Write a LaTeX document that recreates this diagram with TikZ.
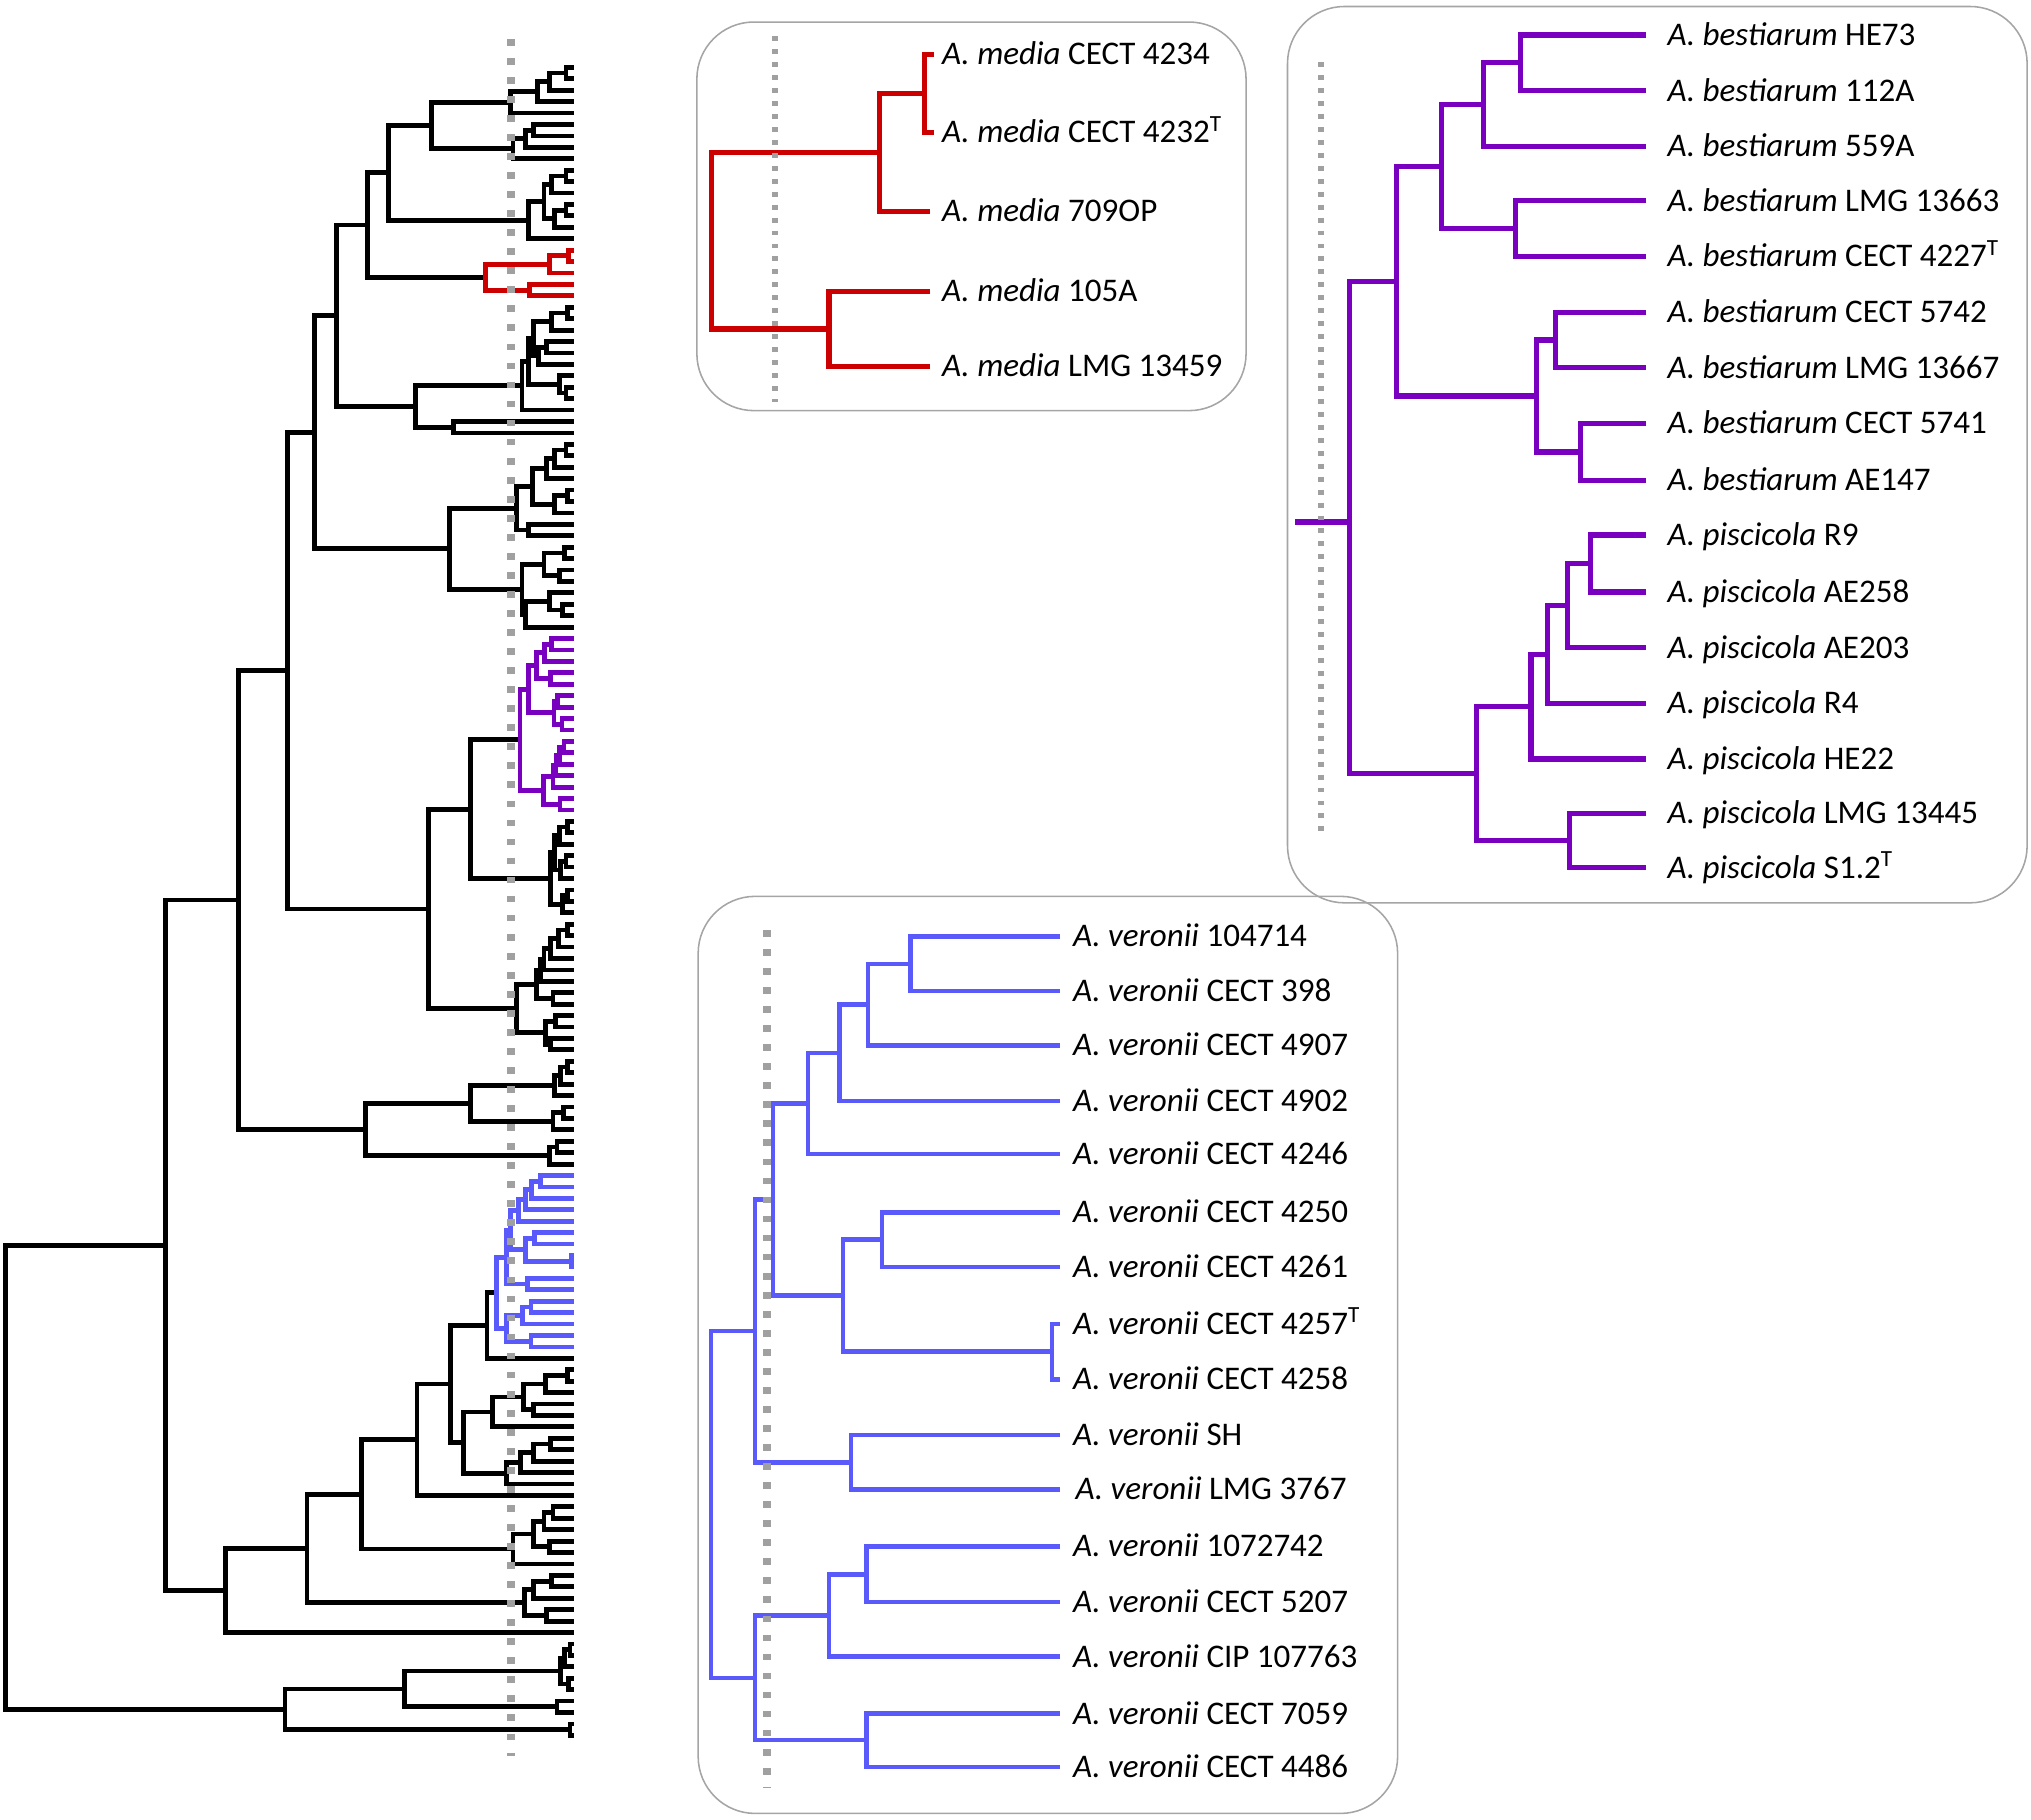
\documentclass[tikz,border=0pt]{standalone}
\usepackage{fontspec}
\setmainfont{Carlito}
\definecolor{tred}{RGB}{204,0,0}
\definecolor{tpurple}{RGB}{120,0,190}
\definecolor{tblue}{RGB}{90,90,250}
\definecolor{dotgray}{RGB}{160,160,160}
\definecolor{boxgray}{RGB}{165,165,165}
\newcommand\bk[5]{\draw (#2,#3) -- (#1,#3) -- (#1,#5) -- (#4,#5);}
\newcommand\lf[5]{\coordinate (#1) at (#2,#4); \node[lbl] (#1t) at (#3,#4) {#5};}
\newcommand\br[3]{\draw (#2) -| (#1) |- (#3);}
\begin{document}
\begin{tikzpicture}[x=0.5pt,y=-0.5pt,line join=miter,
  bigtree/.style={line width=1.85pt},
  boxtree/.style={line width=2pt},
  bluetree/.style={line width=1.7pt},
  lbl/.style={anchor=west,inner sep=0pt,font=\fontsize{12.75}{15}\selectfont,text height=8pt,text depth=0pt},
  gdot/.style={dotgray,line width=3pt,dash pattern=on 2.6pt off 4.75pt},
  bdot/.style={dotgray,line width=2.3pt,dash pattern=on 1.9pt off 3.1pt},
  panel/.style={draw=boxgray,line width=0.6pt,rounded corners=22pt}]
\useasboundingbox (0,0) rectangle (1568,1404.5);

% ---------------- big tree ----------------
\begin{scope}[yshift=-26pt,y=-4.41pt,bigtree]
\bk{437}{443}{0}{443}{1}
\bk{424}{437}{0.5}{443}{2}
\bk{415}{424}{1.25}{443}{3}
\bk{394}{415}{2.125}{443}{4}
\bk{412}{443}{5}{443}{6}
\bk{406}{412}{5.5}{443}{7}
\bk{396}{406}{6.25}{443}{8}
\bk{333}{394}{3.0625}{396}{7.125}
\bk{437}{443}{9}{443}{10}
\bk{426}{437}{9.5}{443}{11}
\bk{437}{443}{12}{443}{13}
\bk{428}{437}{12.5}{443}{14}
\bk{420}{426}{10.25}{428}{13.25}
\bk{408}{420}{11.75}{443}{15}
\bk{300}{333}{5.094}{408}{13.375}
\bk{284}{300}{9.234}{375}{18.375}
\bk{438}{443}{21}{443}{22}
\bk{426}{438}{21.5}{443}{23}
\bk{422}{443}{24}{443}{25}
\bk{416}{422}{24.5}{443}{26}
\bk{412}{426}{22.25}{416}{25.25}
\bk{437}{443}{28}{443}{29}
\bk{432}{443}{27}{437}{28.5}
\bk{408}{412}{23.75}{432}{27.75}
\bk{403}{408}{25.75}{443}{30}
\bk{350}{443}{31}{443}{32}
\bk{321}{403}{27.875}{350}{31.5}
\bk{260}{284}{13.805}{321}{29.688}
\bk{437}{443}{33}{443}{34}
\bk{428}{437}{33.5}{443}{35}
\bk{422}{428}{34.25}{443}{36}
\bk{438}{443}{37}{443}{38}
\bk{428}{438}{37.5}{443}{39}
\bk{411}{422}{35.125}{428}{38.25}
\bk{408}{443}{40}{443}{41}
\bk{399}{411}{36.688}{408}{40.5}
\bk{436}{443}{42}{443}{43}
\bk{432}{443}{44}{443}{45}
\bk{420}{436}{42.5}{432}{44.5}
\bk{434}{443}{47}{443}{48}
\bk{424}{443}{46}{434}{47.5}
\bk{406}{424}{46.75}{443}{49}
\bk{403}{420}{43.5}{406}{47.875}
\bk{347}{399}{38.594}{403}{45.688}
\bk{243}{260}{21.746}{347}{42.141}
\bk{438}{443}{66}{443}{67}
\bk{432}{438}{66.5}{443}{68}
\bk{437}{443}{69}{443}{70}
\bk{433}{437}{69.5}{443}{71}
\bk{428}{432}{67.25}{433}{70.25}
\bk{438}{443}{72}{443}{73}
\bk{434}{438}{72.5}{443}{74}
\bk{425}{428}{68.75}{434}{73.25}
\bk{363}{401.5}{58.86}{425}{71}
\bk{438}{443}{75}{443}{76}
\bk{431}{438}{75.5}{443}{77}
\bk{425}{431}{76.25}{443}{78}
\bk{420}{425}{77.125}{443}{79}
\bk{417}{420}{78.06}{443}{80}
\bk{427}{443}{81}{443}{82}
\bk{414}{417}{79.03}{427}{81.5}
\bk{429}{443}{83}{443}{84}
\bk{425}{443}{85}{443}{86}
\bk{421}{429}{83.5}{425}{85.5}
\bk{399}{414}{80.27}{421}{84.5}
\bk{331}{363}{64.93}{399}{82.385}
\bk{222}{243}{31.94}{331}{73.66}
\bk{438}{443}{87}{443}{88}
\bk{433}{438}{87.5}{443}{89}
\bk{428}{433}{88.25}{443}{90}
\bk{435}{443}{91}{443}{92}
\bk{427}{435}{91.5}{443}{93}
\bk{363}{428}{89.125}{427}{92.25}
\bk{430}{443}{94}{443}{95}
\bk{424}{430}{94.5}{443}{96}
\bk{282}{363}{90.69}{424}{95.25}
\bk{184}{222}{52.8}{282}{92.97}
\bk{376}{383.5}{107.26}{443}{113}
\bk{438}{443}{114}{443}{115}
\bk{421}{438}{114.5}{443}{116}
\bk{412}{443}{117}{443}{118}
\bk{404}{421}{115.25}{412}{117.5}
\bk{380}{404}{116.375}{443}{119}
\bk{425}{443}{120}{443}{121}
\bk{412}{425}{120.5}{443}{122}
\bk{402}{412}{121.25}{443}{123}
\bk{391}{402}{122.125}{443}{124}
\bk{358}{380}{117.69}{391}{123.06}
\bk{348}{376}{110.13}{358}{120.375}
\bk{322}{348}{115.25}{443}{125}
\bk{427}{443}{126}{443}{127}
\bk{420}{427}{126.5}{443}{128}
\bk{424}{443}{129}{443}{130}
\bk{412}{420}{127.25}{424}{129.5}
\bk{396}{412}{128.375}{443}{131}
\bk{279}{322}{120.13}{396}{129.69}
\bk{426}{443}{132}{443}{133}
\bk{412}{426}{132.5}{443}{134}
\bk{422}{443}{135}{443}{136}
\bk{405}{412}{133.25}{422}{135.5}
\bk{237}{279}{124.91}{405}{134.375}
\bk{174}{237}{129.64}{443}{137}
\bk{128}{184}{72.88}{174}{133.32}
\bk{440}{443}{138}{443}{139}
\bk{436}{440}{138.5}{443}{140}
\bk{439}{443}{141}{443}{142}
\bk{433}{436}{139.25}{439}{141.5}
\bk{430}{443}{143}{443}{144}
\bk{312}{433}{140.375}{430}{143.5}
\bk{440}{443}{145}{443}{146}
\bk{220}{312}{141.94}{440}{145.5}
\bk{4}{128}{103.1}{220}{143.72}
\begin{scope}[tred]
\bk{439}{443}{16}{443}{17}
\bk{424}{439}{16.5}{443}{18}
\bk{409}{443}{19}{443}{20}
\bk{375}{424}{17.25}{409}{19.5}
\end{scope}
\begin{scope}[tpurple]
\bk{425.5}{443}{50}{443}{51}
\bk{420.2}{425.5}{50.5}{443}{52}
\bk{424.8}{443}{53}{443}{54}
\bk{414.4}{420.2}{51.25}{424.8}{53.5}
\bk{430.4}{443}{55}{443}{56}
\bk{433.9}{443}{57}{443}{58}
\bk{427.7}{430.4}{55.5}{433.9}{57.5}
\bk{408}{414.4}{52.375}{427.7}{56.5}
\bk{435.4}{443}{59}{443}{60}
\bk{432}{435.4}{59.5}{443}{61}
\bk{429.3}{432}{60.25}{443}{62}
\bk{427}{429.3}{61.125}{443}{63}
\bk{432.4}{443}{64}{443}{65}
\bk{419.3}{427}{62.06}{432.4}{64.5}
\bk{401.5}{408}{54.44}{419.3}{63.28}
\end{scope}
\begin{scope}[tblue]
\bk{417.5}{443}{97}{443}{98}
\bk{410.2}{417.5}{97.5}{443}{99}
\bk{405.4}{410.2}{98.25}{443}{100}
\bk{400.1}{405.4}{99.125}{443}{101}
\bk{412.7}{443}{102}{443}{103}
\bk{441}{443}{104}{443}{105}
\bk{406}{412.7}{102.5}{441}{104.5}
\bk{394.1}{400.1}{100.06}{406}{103.5}
\bk{407.4}{443}{106}{443}{107}
\bk{391}{394.1}{101.78}{407.4}{106.5}
\bk{410}{443}{108}{443}{109}
\bk{403.6}{410}{108.5}{443}{110}
\bk{410}{443}{111}{443}{112}
\bk{391}{403.6}{109.25}{410}{111.5}
\bk{383.5}{391}{104.14}{391}{110.375}
\end{scope}
\end{scope}
\draw[gdot] (394.5,30) -- (394.5,1356);

% ---------------- panels ----------------
\draw[panel] (538,17) rectangle (962,317);
\draw[panel] (994,5) rectangle (1565,697);
\draw[panel] (539,692) rectangle (1079,1400);

% ---------------- red panel ----------------
\lf{m1}{721}{727}{42}{\textit{A. media} CECT 4234}
\lf{m2}{721}{727}{102}{\textit{A. media} CECT 4232\textsuperscript{T}}
\lf{m3}{718}{727}{163}{\textit{A. media} 709OP}
\lf{m4}{718}{727}{225}{\textit{A. media} 105A}
\lf{m5}{718}{727}{283}{\textit{A. media} LMG 13459}
\coordinate (rn1) at (714,72);
\coordinate (rn2) at (679,117.5);
\coordinate (rn3) at (640,254);
\coordinate (rr) at (549,185.75);
\begin{scope}[boxtree,tred]
\br{rn1}{m1}{m2}
\br{rn2}{rn1}{m3}
\br{rn3}{m4}{m5}
\br{rr}{rn2}{rn3}
\end{scope}
\draw[bdot] (598,28) -- (598,310);

% ---------------- purple panel ----------------
\lf{p1}{1271}{1287}{27}{\textit{A. bestiarum} HE73}
\lf{p2}{1271}{1287}{70}{\textit{A. bestiarum} 112A}
\lf{p3}{1271}{1287}{113}{\textit{A. bestiarum} 559A}
\lf{p4}{1271}{1287}{155}{\textit{A. bestiarum} LMG 13663}
\lf{p5}{1271}{1287}{198}{\textit{A. bestiarum} CECT 4227\textsuperscript{T}}
\lf{p6}{1271}{1287}{241}{\textit{A. bestiarum} CECT 5742}
\lf{p7}{1271}{1287}{284}{\textit{A. bestiarum} LMG 13667}
\lf{p8}{1271}{1287}{327}{\textit{A. bestiarum} CECT 5741}
\lf{p9}{1271}{1287}{371}{\textit{A. bestiarum} AE147}
\lf{p10}{1271}{1287}{413}{\textit{A. piscicola} R9}
\lf{p11}{1271}{1287}{457}{\textit{A. piscicola} AE258}
\lf{p12}{1271}{1287}{500}{\textit{A. piscicola} AE203}
\lf{p13}{1271}{1287}{543}{\textit{A. piscicola} R4}
\lf{p14}{1271}{1287}{586}{\textit{A. piscicola} HE22}
\lf{p15}{1271}{1287}{628}{\textit{A. piscicola} LMG 13445}
\lf{p16}{1271}{1287}{670}{\textit{A. piscicola} S1.2\textsuperscript{T}}
\coordinate (pa) at (1174,48.5);
\coordinate (pb) at (1145,80.75);
\coordinate (pc) at (1170,176.5);
\coordinate (pd) at (1113,128.6);
\coordinate (pe) at (1201,262.5);
\coordinate (pf) at (1220,349);
\coordinate (pg) at (1186,305.75);
\coordinate (ph) at (1078,217.2);
\coordinate (pi) at (1228,435);
\coordinate (pj) at (1210,467.5);
\coordinate (pk) at (1195,505);
\coordinate (pl) at (1182,545.5);
\coordinate (pm) at (1212,649);
\coordinate (pn) at (1140,597.25);
\coordinate (pr) at (1042,403);
\coordinate (ps) at (1000,403);
\begin{scope}[boxtree,tpurple]
\br{pa}{p1}{p2}
\br{pb}{pa}{p3}
\br{pc}{p4}{p5}
\br{pd}{pb}{pc}
\br{pe}{p6}{p7}
\br{pf}{p8}{p9}
\br{pg}{pe}{pf}
\br{ph}{pd}{pg}
\br{pi}{p10}{p11}
\br{pj}{pi}{p12}
\br{pk}{pj}{p13}
\br{pl}{pk}{p14}
\br{pm}{p15}{p16}
\br{pn}{pl}{pm}
\br{pr}{ph}{pn}
\draw (ps) -- (pr);
\end{scope}
\draw[bdot] (1020,48) -- (1020,645);

% ---------------- blue panel ----------------
\lf{v1}{818}{828}{723}{\textit{A. veronii} 104714}
\lf{v2}{818}{828}{765}{\textit{A. veronii} CECT 398}
\lf{v3}{818}{828}{807}{\textit{A. veronii} CECT 4907}
\lf{v4}{818}{828}{850}{\textit{A. veronii} CECT 4902}
\lf{v5}{818}{828}{891}{\textit{A. veronii} CECT 4246}
\lf{v6}{818}{828}{936}{\textit{A. veronii} CECT 4250}
\lf{v7}{818}{828}{978}{\textit{A. veronii} CECT 4261}
\lf{v8}{818}{828}{1022}{\textit{A. veronii} CECT 4257\textsuperscript{T}}
\lf{v9}{818}{828}{1065}{\textit{A. veronii} CECT 4258}
\lf{v10}{818}{828}{1108}{\textit{A. veronii} SH}
\lf{v11}{818}{830}{1150}{\textit{A. veronii} LMG 3767}
\lf{v12}{818}{828}{1194}{\textit{A. veronii} 1072742}
\lf{v13}{818}{828}{1237}{\textit{A. veronii} CECT 5207}
\lf{v14}{818}{828}{1279}{\textit{A. veronii} CIP 107763}
\lf{v15}{818}{828}{1323}{\textit{A. veronii} CECT 7059}
\lf{v16}{818}{828}{1364}{\textit{A. veronii} CECT 4486}
\coordinate (va) at (703,744);
\coordinate (vb) at (670,775.5);
\coordinate (vc) at (648,812.75);
\coordinate (vd) at (624,851.9);
\coordinate (ve) at (681,957);
\coordinate (vf) at (812,1043.5);
\coordinate (vg) at (651,1000.25);
\coordinate (vh) at (597,926.1);
\coordinate (vi) at (657,1129);
\coordinate (vj) at (583,1027.5);
\coordinate (vk) at (669,1215.5);
\coordinate (vl) at (640,1247.25);
\coordinate (vm) at (669,1343.5);
\coordinate (vn) at (583,1295.4);
\coordinate (vr) at (549,1161.4);
\begin{scope}[bluetree,tblue]
\br{va}{v1}{v2}
\br{vb}{va}{v3}
\br{vc}{vb}{v4}
\br{vd}{vc}{v5}
\br{ve}{v6}{v7}
\br{vf}{v8}{v9}
\br{vg}{ve}{vf}
\br{vh}{vd}{vg}
\br{vi}{v10}{v11}
\br{vj}{vh}{vi}
\br{vk}{v12}{v13}
\br{vl}{vk}{v14}
\br{vm}{v15}{v16}
\br{vn}{vl}{vm}
\br{vr}{vj}{vn}
\end{scope}
\draw[gdot] (592,718) -- (592,1380);
\end{tikzpicture}
\end{document}
